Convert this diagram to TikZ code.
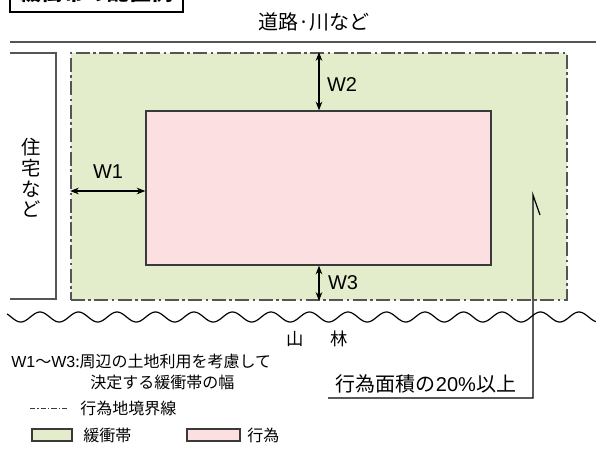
\documentclass[tikz,border=0pt]{standalone}
\usepackage{fontspec}
\setmainfont{Noto Sans CJK JP}
\newfontfamily\latfont{Liberation Sans}
\usetikzlibrary{arrows.meta}
\definecolor{bufgreen}{HTML}{E3ECCB}
\definecolor{actpink}{HTML}{FCDFE0}
\definecolor{linegray}{HTML}{555555}
\definecolor{edgegray}{HTML}{3A3A3A}
\begin{document}
\begin{tikzpicture}[x=0.75pt,y=-0.75pt,
  lbl/.style={font=\fontsize{15}{18}\selectfont, inner sep=0pt},
  wlbl/.style={font=\latfont\fontsize{15}{18}\selectfont, inner sep=0pt},
  legtext/.style={font=\fontsize{12}{14}\selectfont, inner sep=0pt, anchor=west},
  dim/.style={{Stealth[length=6.5pt,width=5pt]}-{Stealth[length=6.5pt,width=5pt]}, line width=0.8pt},
  dashdot/.style={dash pattern=on 10.5pt off 2.6pt on 1.9pt off 2.6pt},
  smalldashdot/.style={dash pattern=on 4pt off 1.5pt on 1pt off 1.5pt},
  thinline/.style={draw=edgegray, line width=0.9pt}]
\clip (0,0) rectangle (596,451);
\useasboundingbox (0,0) rectangle (596,451);
% title
\node[draw=black, line width=1.3pt, minimum width=129.75pt, minimum height=30pt, inner sep=0pt,
  font=\fontsize{16.5}{18}\bfseries\selectfont] (title) at (96.5,-8) {緩衝帯の配置例};
% road
\node[lbl] (road) at (314,22) {道路·川など};
\coordinate (r1) at (10,42);
\coordinate (r2) at (596,42);
\draw[draw=linegray, line width=1.5pt] (r1) -- (r2);
% house
\coordinate (h1) at (10,53);
\coordinate (h2) at (56,53);
\coordinate (h3) at (56,299);
\coordinate (h4) at (10,299);
\draw[thinline, draw=linegray, line width=1.2pt] (h1) -- (h2) -- (h3) -- (h4);
\node[font=\fontsize{14.5}{15.5}\selectfont, align=center, inner sep=0pt] (house) at (31,178) {住\\宅\\な\\ど};
% buffer and act
\node[draw=linegray, fill=bufgreen, line width=1.2pt, dashdot, inner sep=0pt,
  minimum width=372pt, minimum height=185.25pt] (buf) at (319,176.5) {};
\node[draw=edgegray, fill=actpink, line width=1pt, inner sep=0pt,
  minimum width=258.75pt, minimum height=115.5pt] (act) at (318.5,188) {};
% dimensions
\coordinate (wx) at (319,0);
\coordinate (wy) at (0,191);
\draw[dim] (buf.north -| wx) -- (act.north -| wx);
\draw[dim] (act.south -| wx) -- (buf.south -| wx);
\draw[dim] (buf.west |- wy) -- (act.west |- wy);
\node[wlbl] (w1) at (108,172) {W1};
\node[wlbl] (w2) at (342,85) {W2};
\node[wlbl] (w3) at (343,283) {W3};
% mountain forest wave
\draw[line width=0.9pt, black] plot[domain=7:596, samples=400, smooth] (\x, {317-5*cos(((\x-502)/38.5)*360)});
\node[font=\fontsize{13}{15}\selectfont, inner sep=0pt] (yama) at (295,339) {山};
\node[font=\fontsize{13}{15}\selectfont, inner sep=0pt] (hayashi) at (339,339) {林};
% leader
\coordinate (tk) at (540,215);
\coordinate (lt) at (533,195);
\coordinate (lb) at (533,398);
\coordinate (ll) at (328,398);
\draw[line width=0.9pt, black] (tk) -- (lt) -- (lb) -- (ll);
\node[lbl] (pct) at (426,384) {行為面積の{\latfont 20\%}以上};
% legend
\node[legtext] (n1) at (11,361) {{\latfont W1}～{\latfont W3}:周辺の土地利用を考慮して};
\node[legtext] (n2) at (90,382) {決定する緩衝帯の幅};
\coordinate (d1) at (30,408);
\coordinate (d2) at (67,408);
\draw[draw=edgegray, line width=0.7pt, smalldashdot] (d1) -- (d2);
\node[legtext] (n3) at (80,408) {行為地境界線};
\node[draw=edgegray, fill=bufgreen, line width=0.8pt, minimum width=30pt, minimum height=9pt, inner sep=0pt] (lg) at (52,435) {};
\node[legtext] (n4) at (83,435) {緩衝帯};
\node[draw=edgegray, fill=actpink, line width=0.8pt, minimum width=39.75pt, minimum height=9pt, inner sep=0pt] (lp) at (213.5,435) {};
\node[legtext] (n5) at (247,435) {行為};
\end{tikzpicture}
\end{document}
